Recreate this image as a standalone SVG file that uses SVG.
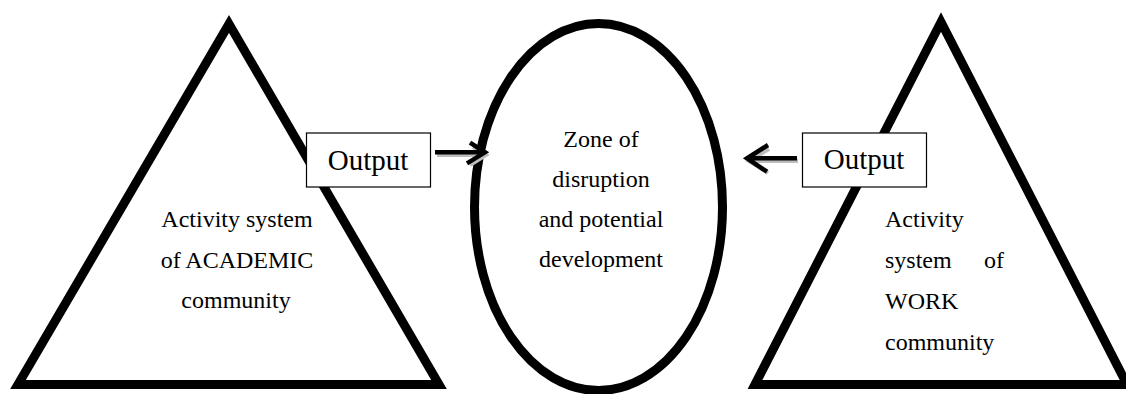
<svg xmlns="http://www.w3.org/2000/svg" width="1126" height="394" viewBox="0 0 1126 394" font-family="'Liberation Serif', 'Times New Roman', Times, serif">
<style>
.shape{fill:#fff;stroke:#000;stroke-width:9;stroke-linejoin:miter;stroke-miterlimit:10}
.box{fill:#fff;stroke:#000;stroke-width:1.2}
.t{font-size:24px;fill:#000}
.c{text-anchor:middle}
.out{font-size:29px;fill:#000;text-anchor:middle}
.arr{fill:none;stroke:#000;stroke-width:4.5;stroke-linecap:butt;stroke-linejoin:miter}
.sh{fill:none;stroke:#bdbdbd;stroke-width:4}
</style>
<rect width="1126" height="394" fill="#fff"/>
<g id="academic">
<polygon class="shape" points="229,24 439,384.5 18,384.5"/>
<text class="t c" x="237" y="227" font-family="Liberation Serif, serif">Activity system</text>
<text class="t c" x="237" y="268" font-family="Liberation Serif, serif">of ACADEMIC</text>
<text class="t c" x="236" y="308" font-family="Liberation Serif, serif">community</text>
</g>
<g id="work" font-family="Liberation Serif, serif">
<polygon class="shape" points="941,22 1127,384.5 755,384.5"/>
<text class="t" x="885" y="227">Activity</text>
<text class="t" x="885" y="268">system</text>
<text class="t" x="1004" y="268" text-anchor="end">of</text>
<text class="t" x="885" y="309">WORK</text>
<text class="t" x="885" y="350">community</text>
</g>
<g id="zone" font-family="Liberation Serif, serif">
<ellipse class="shape" cx="598.5" cy="207" rx="124" ry="183.5"/>
<text class="t c" x="601" y="147">Zone of</text>
<text class="t c" x="601" y="187">disruption</text>
<text class="t c" x="601" y="227">and potential</text>
<text class="t c" x="601" y="267">development</text>
</g>
<g id="output-left" font-family="Liberation Serif, serif">
<rect class="box" x="306.5" y="133" width="124" height="54"/>
<text class="out" x="368" y="170">Output</text>
</g>
<g id="output-right" font-family="Liberation Serif, serif">
<rect class="box" x="802.5" y="133" width="124" height="54"/>
<text class="out" x="864" y="169">Output</text>
</g>
<g id="connectors">
<path class="sh" d="M437,155 H485 M473,147 L486,155 L470,165"/>
<path class="arr" d="M435,152.3 H484 M470,142.7 L485,152.3 L467,163.3"/>
<path class="sh" d="M798,161 H750 M769,149 L749,161 L768,173"/>
<path class="arr" d="M797,158.3 H749 M768,145 L747,158.3 L767,171.7"/>
</g>
</svg>
